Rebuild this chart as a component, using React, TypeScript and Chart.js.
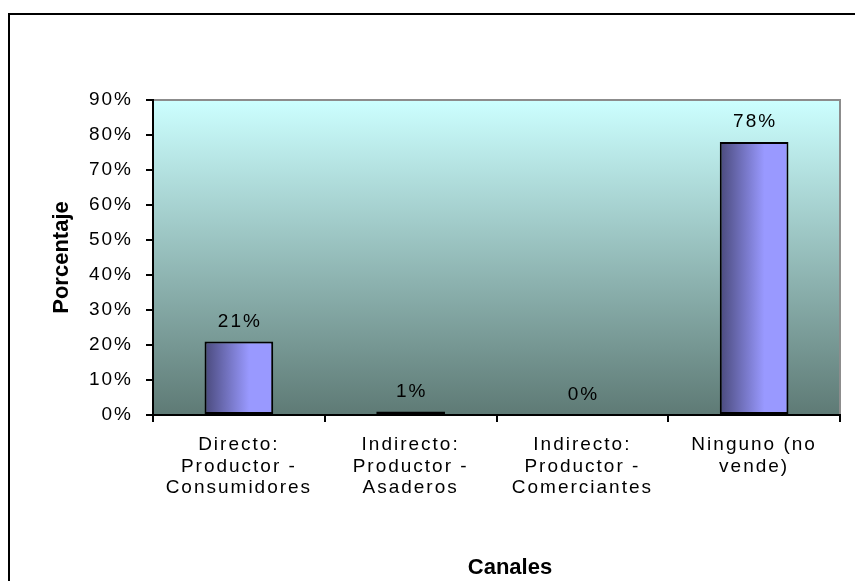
import React, { useEffect, useRef } from "react";
import { Chart, registerables } from "chart.js";

Chart.register(...registerables);

const categories: string[][] = [
  ["Directo:", "Productor -", "Consumidores"],
  ["Indirecto:", "Productor -", "Asaderos"],
  ["Indirecto:", "Productor -", "Comerciantes"],
  ["Ninguno (no", "vende)"],
];
const values: number[] = [21, 1, 0, 78];
const yTicks: number[] = [0, 10, 20, 30, 40, 50, 60, 70, 80, 90];
const yTitle = "Porcentaje";
const xTitle = "Canales";

const FONT = "Arial, 'Liberation Sans', sans-serif";
const BAR_FRACTION = 0.4;
const SPACING = "2px";

const decorPlugin = {
  id: "decor",
  beforeDraw(chart: any) {
    const { ctx, chartArea } = chart;
    const { left, top, right, bottom } = chartArea;
    ctx.save();
    // outer frame (top & left)
    ctx.strokeStyle = "#000";
    ctx.lineWidth = 2;
    ctx.beginPath();
    ctx.moveTo(9, chart.height + 5);
    ctx.lineTo(9, 14);
    ctx.lineTo(chart.width + 5, 14);
    ctx.stroke();
    // plot background gradient
    const g = ctx.createLinearGradient(0, top, 0, bottom);
    g.addColorStop(0, "#ccffff");
    g.addColorStop(1, "#5e7a75");
    ctx.fillStyle = g;
    ctx.fillRect(left, top, right - left, bottom - top);
    // plot border gray
    ctx.strokeStyle = "#8c8c8c";
    ctx.lineWidth = 2;
    ctx.beginPath();
    ctx.moveTo(left, top);
    ctx.lineTo(right, top);
    ctx.lineTo(right, bottom);
    ctx.stroke();
    ctx.restore();
    (ctx as any).letterSpacing = SPACING;
  },
  afterDatasetsDraw(chart: any) {
    const { ctx } = chart;
    const meta = chart.getDatasetMeta(0);
    ctx.save();
    ctx.fillStyle = "#000";
    ctx.font = `19px ${FONT}`;
    (ctx as any).letterSpacing = SPACING;
    ctx.textAlign = "center";
    ctx.textBaseline = "middle";
    meta.data.forEach((el: any, i: number) => {
      const { x, y } = el.getProps(["x", "y"], true);
      ctx.fillText(`${values[i]}%`, x + 1, y - 20);
    });
    ctx.restore();
  },
  afterDraw(chart: any) {
    const { ctx, chartArea } = chart;
    ctx.save();
    (ctx as any).letterSpacing = "0px";
    ctx.fillStyle = "#000";
    ctx.font = `bold 22px ${FONT}`;
    ctx.textAlign = "center";
    ctx.textBaseline = "middle";
    ctx.fillText(xTitle, 510, 568);
    ctx.translate(62, (chartArea.top + chartArea.bottom) / 2);
    ctx.rotate(-Math.PI / 2);
    ctx.fillText(yTitle, 0, 0);
    ctx.restore();
    (ctx as any).letterSpacing = "0px";
  },
};

export default function App() {
  const ref = useRef<HTMLCanvasElement | null>(null);
  useEffect(() => {
    if (!ref.current) return;
    const chart = new Chart(ref.current, {
      type: "bar",
      data: {
        labels: categories,
        datasets: [
          {
            data: values,
            backgroundColor: (c: any) => {
              const chartObj = c.chart;
              const xs = chartObj.scales?.x;
              if (!xs || !chartObj.chartArea) return "#9999ff";
              const cx = xs.getPixelForValue(c.dataIndex);
              const cw = (chartObj.chartArea.right - chartObj.chartArea.left) / categories.length;
              const w = cw * BAR_FRACTION;
              const g = chartObj.ctx.createLinearGradient(cx - w / 2, 0, cx + w / 2, 0);
              g.addColorStop(0, "#4a4a7c");
              g.addColorStop(0.65, "#9999ff");
              g.addColorStop(1, "#9999ff");
              return g;
            },
            borderColor: "#000",
            borderWidth: 2,
            borderSkipped: false,
            barPercentage: 0.4,
            categoryPercentage: 1,
          },
        ],
      },
      plugins: [decorPlugin],
      options: {
        animation: false,
        responsive: false,
        devicePixelRatio: 1,
        layout: { padding: { left: 10, top: 100, right: 15, bottom: 0 } },
        plugins: { legend: { display: false }, tooltip: { enabled: false } },
        scales: {
          x: {
            afterFit: (s: any) => {
              s.height = 166;
            },
            grid: {
              display: true,
              drawOnChartArea: false,
              drawTicks: true,
              tickLength: 7,
              color: "#000",
              lineWidth: 2,
              offset: true,
            },
            border: { display: true, color: "#000", width: 2 },
            ticks: {
              color: "#000",
              font: { family: FONT, size: 19, lineHeight: 1.14 },
              padding: 12,
              maxRotation: 0,
              autoSkip: false,
            },
            title: { display: false },
          },
          y: {
            min: 0,
            max: 90,
            afterFit: (s: any) => {
              s.width = 143;
            },
            afterBuildTicks: (s: any) => {
              s.ticks = yTicks.map((v) => ({ value: v }));
            },
            grid: {
              display: true,
              drawOnChartArea: false,
              drawTicks: true,
              tickLength: 7,
              color: "#000",
              lineWidth: 2,
            },
            border: { display: true, color: "#000", width: 2 },
            ticks: {
              color: "#000",
              font: { family: FONT, size: 19 },
              padding: 13,
              callback: (v: any) => `${v}%`,
            },
            title: { display: false },
          },
        },
      },
    });
    return () => chart.destroy();
  }, []);
  return (
    <div style={{ position: "fixed", left: 0, top: 0, width: 855, height: 581, background: "#fff" }}>
      <canvas ref={ref} width={855} height={581} style={{ display: "block", width: 855, height: 581 }} />
    </div>
  );
}
